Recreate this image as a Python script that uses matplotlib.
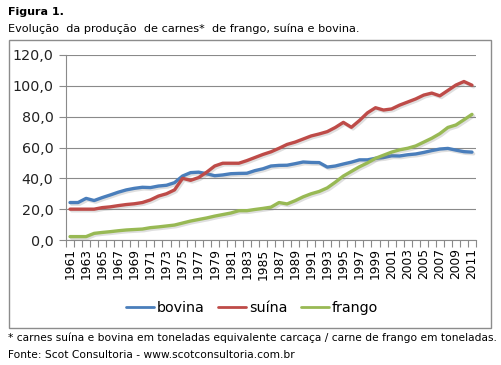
import numpy as np
import matplotlib.pyplot as plt
import matplotlib.patheffects as pe
from matplotlib.patches import Rectangle

years = np.arange(1961, 2012)

# produção
bovina = [24.3, 24.3, 27.0, 25.6, 27.5, 29.2, 31.0, 32.5, 33.5, 34.2,
          34.0, 35.0, 35.5, 37.2, 41.5, 43.7, 44.0, 43.0, 41.7, 42.2,
          43.0, 43.2, 43.3, 45.0, 46.2, 48.0, 48.4, 48.5, 49.5, 50.6,
          50.3, 50.2, 47.3, 48.0, 49.3, 50.5, 52.0, 52.0, 53.0, 53.5,
          54.6, 54.5, 55.3, 55.8, 56.8, 58.0, 59.0, 59.4, 58.3, 57.3,
          57.0]
suina = [20.0, 20.0, 20.0, 20.0, 21.0, 21.5, 22.3, 23.0, 23.5, 24.3,
         26.0, 28.5, 30.0, 32.5, 40.0, 38.7, 40.5, 44.0, 48.0, 49.8,
         49.8, 49.8, 51.5, 53.5, 55.5, 57.2, 59.5, 62.0, 63.5, 65.5,
         67.5, 68.8, 70.3, 73.0, 76.3, 73.1, 77.5, 82.5, 85.8, 84.3,
         85.0, 87.5, 89.5, 91.5, 94.0, 95.3, 93.5, 97.0, 100.5, 102.8,
         100.4]
frango = [2.2, 2.2, 2.2, 4.3, 4.9, 5.4, 6.0, 6.5, 6.8, 7.1,
          8.0, 8.5, 9.1, 9.7, 11.0, 12.3, 13.3, 14.3, 15.5, 16.5,
          17.5, 19.0, 19.0, 19.8, 20.5, 21.3, 24.3, 23.4, 25.5, 28.0,
          30.0, 31.5, 33.8, 37.5, 41.5, 44.5, 47.5, 50.0, 53.0, 55.0,
          57.0, 58.5, 59.5, 61.0, 63.5, 66.0, 69.0, 73.0, 74.6, 78.0,
          81.5]

series = [("bovina", bovina, "#4A7EBB"),
          ("suína", suina, "#BE4B48"),
          ("frango", frango, "#98B954")]

W, H = 501, 365
fig = plt.figure(figsize=(W / 100, H / 100), dpi=100)

# moldura do gráfico
fig.patches.append(Rectangle((9 / W, 1 - 328 / H), 482 / W, 288 / H,
                             transform=fig.transFigure, fill=False,
                             edgecolor="#8c8c8c", linewidth=1.0))

ax = fig.add_axes([66 / W, 1 - 240 / H, 410 / W, 185 / H])

shadow = [pe.SimpleLineShadow(offset=(1.2, -1.2), alpha=0.25, shadow_color="gray"),
          pe.Normal()]
for name, vals, col in series:
    ax.plot(years, vals, color=col, lw=2.4, label=name,
            solid_capstyle="round", path_effects=shadow)

ax.set_xlim(1960.5, 2011.5)
ax.set_ylim(0, 120)
ax.set_yticks(np.arange(0, 121, 20))
ax.set_yticklabels([f"{v:.1f}".replace(".", ",") for v in range(0, 121, 20)],
                   fontsize=10.3, color="#222222")
ax.yaxis.grid(True, color="#8a8a8a", lw=0.8)
ax.set_axisbelow(True)

# marcas entre categorias, rótulos a cada dois anos
ax.set_xticks(np.arange(1960.5, 2012, 1))
ax.set_xticklabels([])
ax.set_xticks(years[::2], minor=True)
ax.set_xticklabels([str(y) for y in years[::2]], minor=True,
                   rotation=90, fontsize=8.8, color="black")
ax.tick_params(axis="x", which="major", length=5, color="#8a8a8a", width=0.8)
ax.tick_params(axis="x", which="minor", length=0, pad=6)
ax.tick_params(axis="y", length=5, color="#8a8a8a", width=0.8, pad=4)

for s in ["top", "right"]:
    ax.spines[s].set_visible(False)
for s in ["left", "bottom"]:
    ax.spines[s].set_color("#8a8a8a")
    ax.spines[s].set_linewidth(0.8)

fig.legend(loc="center", bbox_to_anchor=(252 / W, 1 - 308 / H), ncol=3,
           frameon=False, fontsize=10.3, handlelength=2.0, handletextpad=0.2,
           columnspacing=0.9)
for line in fig.legends[0].get_lines():
    line.set_path_effects([])
    line.set_linewidth(2.0)

fig.text(8 / W, 1 - 12 / H, "Figura 1.", fontsize=8, fontweight="bold",
         va="center", ha="left")
fig.text(8 / W, 1 - 29 / H,
         "Evolução  da produção  de carnes*  de frango, suína e bovina.",
         fontsize=8.1, va="center", ha="left")
fig.text(8 / W, 1 - 338 / H,
         "* carnes suína e bovina em toneladas equivalente carcaça / carne de frango em toneladas.",
         fontsize=7.7, va="center", ha="left")
fig.text(8 / W, 1 - 355 / H,
         "Fonte: Scot Consultoria - www.scotconsultoria.com.br",
         fontsize=7.7, va="center", ha="left")

fig.savefig("out.png", dpi=100)
